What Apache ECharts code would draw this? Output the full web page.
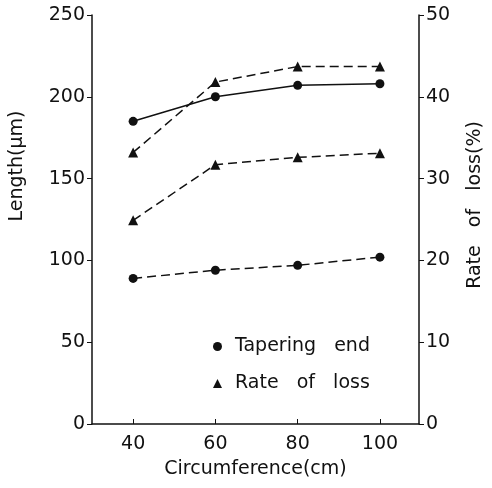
<!DOCTYPE html>
<html>
<head>
<meta charset="utf-8">
<script src="https://cdn.jsdelivr.net/npm/echarts@6/dist/echarts.min.js"></script>
<style>
  html, body { margin: 0; padding: 0; background: #fff; }
  #chart { width: 492px; height: 488px; }
</style>
</head>
<body>
<div id="chart"></div>
<script>
var circumference = [40, 60, 80, 100];
var taperingSolid = [185, 200, 207, 208];
var taperingDashed = [89, 94, 97, 102];
var lossUpper = [33.2, 41.8, 43.7, 43.7];
var lossLower = [24.9, 31.7, 32.6, 33.1];
var lengthTicks = [0, 50, 100, 150, 200, 250];
var rateTicks = [0, 10, 20, 30, 40, 50];

function pairs(ys) {
  return circumference.map(function (x, i) { return [x, ys[i]]; });
}

var font = 'DejaVu Sans';
var ink = '#111';

var myChart = echarts.init(document.getElementById('chart'));

function lineSeries(name, ys, axis, symbol, size, dashed) {
  return {
    name: name,
    type: 'line',
    yAxisIndex: axis,
    data: pairs(ys),
    symbol: symbol,
    symbolSize: size,
    itemStyle: { color: ink },
    lineStyle: { color: ink, width: 1.5, type: dashed ? [9, 5] : 'solid' },
    emphasis: { disabled: true },
    animation: false
  };
}

myChart.setOption({
  grid: { left: 92, right: 73, top: 15, bottom: 64 },
  legend: {
    data: [
      { name: 'Tapering end', icon: 'circle' },
      { name: 'Rate of loss', icon: 'triangle' }
    ],
    formatter: function (name) { return name.replace(/ /g, '   '); },
    orient: 'vertical',
    left: 208,
    top: 332,
    itemWidth: 9,
    itemHeight: 9,
    itemGap: 18,
    textStyle: { fontFamily: font, fontSize: 19, color: ink, padding: [0, 0, 0, 8] },
    selectedMode: false
  },
  xAxis: {
    type: 'value',
    min: 30,
    max: 109.5,
    name: 'Circumference(cm)',
    nameLocation: 'middle',
    nameGap: 36,
    nameTextStyle: { fontFamily: font, fontSize: 19, color: ink },
    splitLine: { show: false },
    axisLine: { lineStyle: { color: ink, width: 1.5 } },
    axisTick: { inside: true, length: 5, customValues: circumference, lineStyle: { color: ink } },
    axisLabel: { customValues: circumference, fontFamily: font, fontSize: 19, color: ink, margin: 11 }
  },
  yAxis: [
    {
      type: 'value',
      min: 0,
      max: 250,
      interval: 50,
      position: 'left',
      splitLine: { show: false },
      axisLine: { show: true, lineStyle: { color: ink, width: 1.5 } },
      axisTick: { show: true, length: 5, customValues: lengthTicks, lineStyle: { color: ink } },
      axisLabel: { customValues: lengthTicks, fontFamily: font, fontSize: 19, color: ink, margin: 7 }
    },
    {
      type: 'value',
      min: 0,
      max: 50,
      interval: 10,
      position: 'right',
      splitLine: { show: false },
      axisLine: { show: true, lineStyle: { color: ink, width: 1.5 } },
      axisTick: { show: true, length: 5, customValues: rateTicks, lineStyle: { color: ink } },
      axisLabel: { customValues: rateTicks, fontFamily: font, fontSize: 19, color: ink, margin: 7 }
    }
  ],
  graphic: [
    {
      type: 'text',
      x: 8,
      y: 166,
      rotation: Math.PI / 2,
      style: { text: 'Length(μm)', font: '19px "DejaVu Sans"', fill: ink, align: 'center', verticalAlign: 'top' }
    },
    {
      type: 'text',
      x: 466,
      y: 205,
      rotation: Math.PI / 2,
      style: { text: 'Rate   of   loss(%)', font: '19px "DejaVu Sans"', fill: ink, align: 'center', verticalAlign: 'top' }
    }
  ],
  series: [
    lineSeries('Tapering end', taperingSolid, 0, 'circle', 9, false),
    lineSeries('Tapering end', taperingDashed, 0, 'circle', 9, true),
    lineSeries('Rate of loss', lossUpper, 1, 'triangle', 10, true),
    lineSeries('Rate of loss', lossLower, 1, 'triangle', 10, true)
  ]
});
</script>
</body>
</html>
